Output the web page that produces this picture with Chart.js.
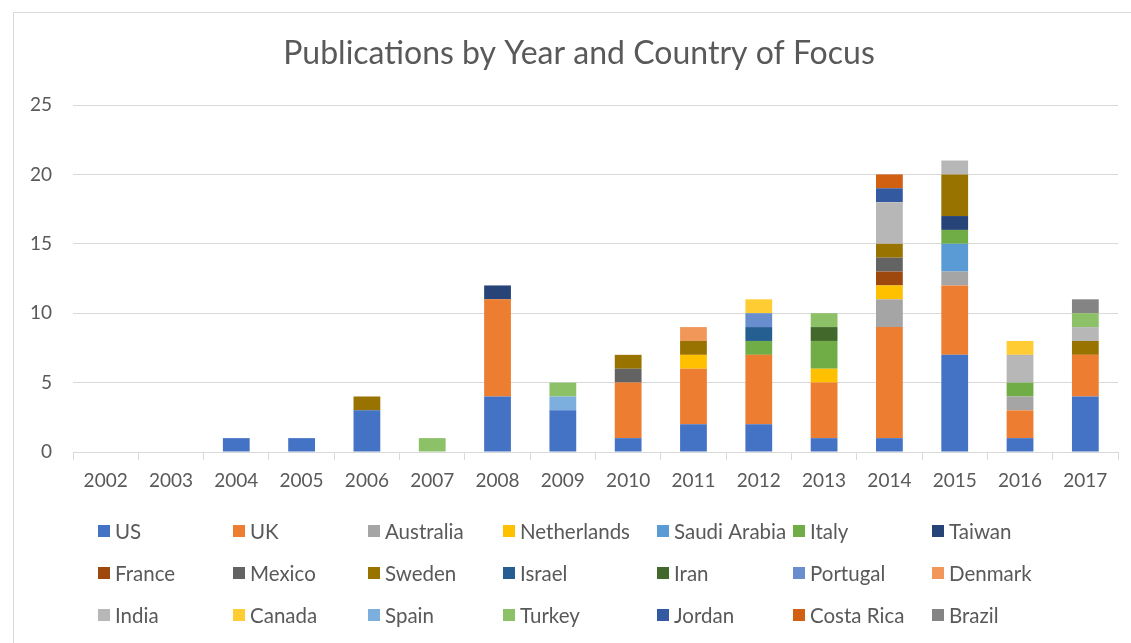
<!DOCTYPE html>
<html>
<head>
<meta charset="utf-8">
<script src="https://cdn.jsdelivr.net/npm/chart.js@4"></script>
<style>
html, body { margin: 0; padding: 0; background: #fff; overflow: hidden; }
#wrap { position: absolute; left: 0; top: 0; width: 1131px; height: 643px; }
</style>
</head>
<body>
<div id="wrap"><canvas id="chart"></canvas></div>
<script>
const years = ["2002", "2003", "2004", "2005", "2006", "2007", "2008", "2009",
    "2010", "2011", "2012", "2013", "2014", "2015", "2016", "2017"];
const yTicks = [0, 5, 10, 15, 20, 25];
const chartTitle = "Publications by Year and Country of Focus";

// publications per year, one array per country of focus
const US          = [0, 0, 1, 1, 3, 0, 4, 3, 1, 2, 2, 1, 1, 7, 1, 4];
const UK          = [0, 0, 0, 0, 0, 0, 7, 0, 4, 4, 5, 4, 8, 5, 2, 3];
const Australia   = [0, 0, 0, 0, 0, 0, 0, 0, 0, 0, 0, 0, 2, 1, 1, 0];
const Netherlands = [0, 0, 0, 0, 0, 0, 0, 0, 0, 1, 0, 1, 1, 0, 0, 0];
const SaudiArabia = [0, 0, 0, 0, 0, 0, 0, 0, 0, 0, 0, 0, 0, 2, 0, 0];
const Italy       = [0, 0, 0, 0, 0, 0, 0, 0, 0, 0, 1, 2, 0, 1, 1, 0];
const Taiwan      = [0, 0, 0, 0, 0, 0, 1, 0, 0, 0, 0, 0, 0, 1, 0, 0];
const France      = [0, 0, 0, 0, 0, 0, 0, 0, 0, 0, 0, 0, 1, 0, 0, 0];
const Mexico      = [0, 0, 0, 0, 0, 0, 0, 0, 1, 0, 0, 0, 1, 0, 0, 0];
const Sweden      = [0, 0, 0, 0, 1, 0, 0, 0, 1, 1, 0, 0, 1, 3, 0, 1];
const Israel      = [0, 0, 0, 0, 0, 0, 0, 0, 0, 0, 1, 0, 0, 0, 0, 0];
const Iran        = [0, 0, 0, 0, 0, 0, 0, 0, 0, 0, 0, 1, 0, 0, 0, 0];
const Portugal    = [0, 0, 0, 0, 0, 0, 0, 0, 0, 0, 1, 0, 0, 0, 0, 0];
const Denmark     = [0, 0, 0, 0, 0, 0, 0, 0, 0, 1, 0, 0, 0, 0, 0, 0];
const India       = [0, 0, 0, 0, 0, 0, 0, 0, 0, 0, 0, 0, 3, 1, 2, 1];
const Canada      = [0, 0, 0, 0, 0, 0, 0, 0, 0, 0, 1, 0, 0, 0, 1, 0];
const Spain       = [0, 0, 0, 0, 0, 0, 0, 1, 0, 0, 0, 0, 0, 0, 0, 0];
const Turkey      = [0, 0, 0, 0, 0, 1, 0, 1, 0, 0, 0, 1, 0, 0, 0, 1];
const Jordan      = [0, 0, 0, 0, 0, 0, 0, 0, 0, 0, 0, 0, 1, 0, 0, 0];
const CostaRica   = [0, 0, 0, 0, 0, 0, 0, 0, 0, 0, 0, 0, 1, 0, 0, 0];
const Brazil      = [0, 0, 0, 0, 0, 0, 0, 0, 0, 0, 0, 0, 0, 0, 0, 1];

const countries = ["US", "UK", "Australia", "Netherlands", "Saudi Arabia", "Italy", "Taiwan",
    "France", "Mexico", "Sweden", "Israel", "Iran", "Portugal", "Denmark",
    "India", "Canada", "Spain", "Turkey", "Jordan", "Costa Rica", "Brazil"];
const series = [US, UK, Australia, Netherlands, SaudiArabia, Italy, Taiwan,
    France, Mexico, Sweden, Israel, Iran, Portugal, Denmark,
    India, Canada, Spain, Turkey, Jordan, CostaRica, Brazil];
const colors = ["#4472C4", "#ED7D31", "#A5A5A5", "#FFC000", "#5B9BD5", "#70AD47", "#264478",
    "#9E480E", "#636363", "#997300", "#255E91", "#43682B", "#698ED0", "#F1975A",
    "#B7B7B7", "#FFCD33", "#7CAFDD", "#8CC168", "#335AA1", "#D26012", "#848484"];

const FONT = "Lato, 'Open Sans', sans-serif";
const TEXT = "#595959";
const GRID = "#D9D9D9";

// white page, thin chart-area frame, title centred on the frame, Excel style grid legend
const frameAndLegend = {
    id: "frameAndLegend",
    beforeDraw(chart) {
        const ctx = chart.ctx;
        ctx.save();
        ctx.fillStyle = "#fff";
        ctx.fillRect(0, 0, chart.width, chart.height);
        ctx.strokeStyle = GRID;
        ctx.lineWidth = 1;
        ctx.strokeRect(13.5, 12.5, chart.width + 20, chart.height + 20);
        ctx.restore();
    },
    afterDraw(chart) {
        const ctx = chart.ctx;
        ctx.save();
        ctx.fillStyle = TEXT;
        ctx.font = "32px " + FONT;
        ctx.textAlign = "center";
        ctx.textBaseline = "alphabetic";
        ctx.fillText(chartTitle, 579, 64);

        const colX = [98, 233, 368, 503, 657, 793, 932];
        const rowY = [531, 573, 615];
        ctx.font = "20.5px " + FONT;
        ctx.textBaseline = "middle";
        ctx.textAlign = "left";
        chart.data.datasets.forEach((ds, i) => {
            const x = colX[i % 7];
            const y = rowY[Math.floor(i / 7)];
            ctx.fillStyle = ds.backgroundColor;
            ctx.fillRect(x, y - 6, 12, 12);
            ctx.fillStyle = TEXT;
            ctx.fillText(ds.label, x + 17, y + 1);
        });
        ctx.restore();
    }
};

new Chart(document.getElementById("chart"), {
    type: "bar",
    data: {
        labels: years,
        datasets: series.map((values, i) => ({
            label: countries[i],
            data: values,
            backgroundColor: colors[i],
            borderWidth: 0,
            barPercentage: 0.41,
            categoryPercentage: 1
        }))
    },
    options: {
        responsive: true,
        maintainAspectRatio: false,
        animation: false,
        layout: { padding: { left: 0, right: 13, top: 105, bottom: 141 } },
        plugins: {
            legend: { display: false },
            tooltip: { enabled: false },
            title: { display: false }
        },
        scales: {
            x: {
                stacked: true,
                grid: { display: true, drawOnChartArea: false, drawTicks: true, tickLength: 8, color: GRID, offset: true },
                border: { display: true, color: GRID },
                ticks: { color: TEXT, font: { family: FONT, size: 19 }, padding: 9, maxRotation: 0 },
                afterFit(scale) { scale.height = 50; }
            },
            y: {
                stacked: true,
                min: 0,
                max: yTicks[yTicks.length - 1],
                afterBuildTicks(scale) { scale.ticks = yTicks.map(v => ({ value: v })); },
                grid: { color: GRID, drawTicks: false },
                border: { display: false },
                ticks: { color: TEXT, font: { family: FONT, size: 19 }, padding: 21 },
                afterFit(scale) { scale.width = 73; }
            }
        }
    },
    plugins: [frameAndLegend]
});
</script>
</body>
</html>
